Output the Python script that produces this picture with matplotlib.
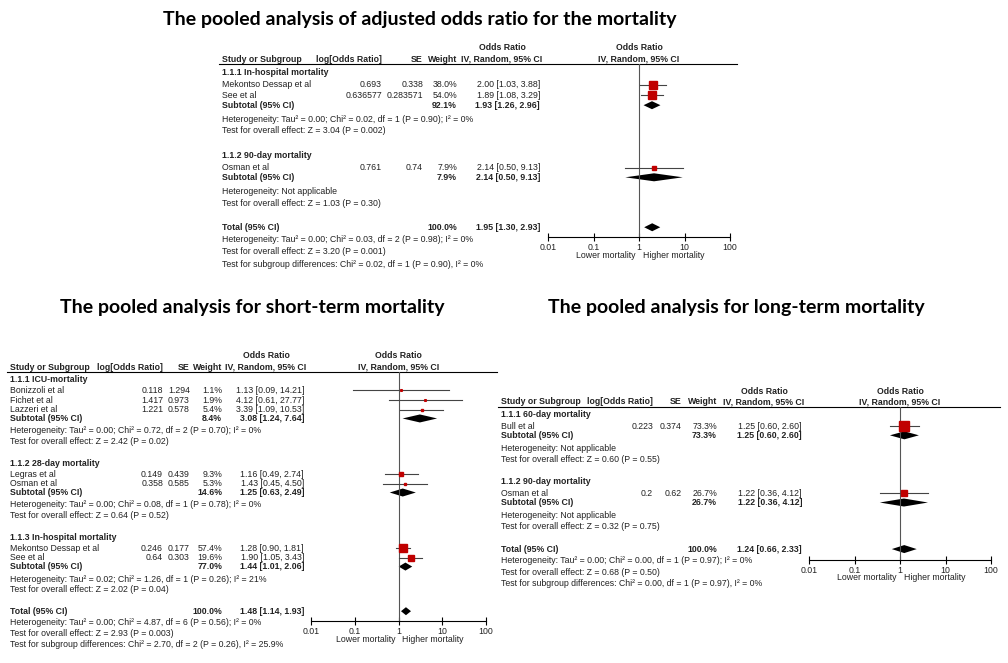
"""Three forest plots: adjusted, short-term and long-term mortality"""
import numpy as np
from matplotlib import pyplot as plt
from matplotlib.patches import Polygon

RED = '#c00000'
TXT = '#222222'

# ---- panel 1: adjusted odds ratio ----
p1_groups = ['1.1.1 In-hospital mortality', '1.1.2 90-day mortality']
p1_names = [['Mekontso Dessap et al', 'See et al'], ['Osman et al']]
p1_logor = [['0.693', '0.636577'], ['0.761']]
p1_se = [['0.338', '0.283571'], ['0.74']]
p1_w = [[38.0, 54.0], [7.9]]
p1_or = [[2.00, 1.89], [2.14]]
p1_lo = [[1.03, 1.08], [0.50]]
p1_hi = [[3.88, 3.29], [9.13]]
p1_sub_w = [92.1, 7.9]
p1_sub_or = [1.93, 2.14]
p1_sub_lo = [1.26, 0.50]
p1_sub_hi = [2.96, 9.13]
p1_het = ['Heterogeneity: Tau² = 0.00; Chi² = 0.02, df = 1 (P = 0.90); I² = 0%',
          'Heterogeneity: Not applicable']
p1_test = ['Test for overall effect: Z = 3.04 (P = 0.002)',
           'Test for overall effect: Z = 1.03 (P = 0.30)']
p1_total = [1.95, 1.30, 2.93]
p1_foot = ['Heterogeneity: Tau² = 0.00; Chi² = 0.03, df = 2 (P = 0.98); I² = 0%',
           'Test for overall effect: Z = 3.20 (P = 0.001)',
           'Test for subgroup differences: Chi² = 0.02, df = 1 (P = 0.90), I² = 0%']

# ---- panel 2: short-term mortality ----
p2_groups = ['1.1.1 ICU-mortality', '1.1.2 28-day mortality', '1.1.3 In-hospital mortality']
p2_names = [['Bonizzoli et al', 'Fichet et al', 'Lazzeri et al'],
            ['Legras et al', 'Osman et al'], ['Mekontso Dessap et al', 'See et al']]
p2_logor = [['0.118', '1.417', '1.221'], ['0.149', '0.358'], ['0.246', '0.64']]
p2_se = [['1.294', '0.973', '0.578'], ['0.439', '0.585'], ['0.177', '0.303']]
p2_w = [[1.1, 1.9, 5.4], [9.3, 5.3], [57.4, 19.6]]
p2_or = [[1.13, 4.12, 3.39], [1.16, 1.43], [1.28, 1.90]]
p2_lo = [[0.09, 0.61, 1.09], [0.49, 0.45], [0.90, 1.05]]
p2_hi = [[14.21, 27.77, 10.53], [2.74, 4.50], [1.81, 3.43]]
p2_sub_w = [8.4, 14.6, 77.0]
p2_sub_or = [3.08, 1.25, 1.44]
p2_sub_lo = [1.24, 0.63, 1.01]
p2_sub_hi = [7.64, 2.49, 2.06]
p2_het = ['Heterogeneity: Tau² = 0.00; Chi² = 0.72, df = 2 (P = 0.70); I² = 0%',
          'Heterogeneity: Tau² = 0.00; Chi² = 0.08, df = 1 (P = 0.78); I² = 0%',
          'Heterogeneity: Tau² = 0.02; Chi² = 1.26, df = 1 (P = 0.26); I² = 21%']
p2_test = ['Test for overall effect: Z = 2.42 (P = 0.02)',
           'Test for overall effect: Z = 0.64 (P = 0.52)',
           'Test for overall effect: Z = 2.02 (P = 0.04)']
p2_total = [1.48, 1.14, 1.93]
p2_foot = ['Heterogeneity: Tau² = 0.00; Chi² = 4.87, df = 6 (P = 0.56); I² = 0%',
           'Test for overall effect: Z = 2.93 (P = 0.003)',
           'Test for subgroup differences: Chi² = 2.70, df = 2 (P = 0.26), I² = 25.9%']

# ---- panel 3: long-term mortality ----
p3_groups = ['1.1.1 60-day mortality', '1.1.2 90-day mortality']
p3_names = [['Bull et al'], ['Osman et al']]
p3_logor = [['0.223'], ['0.2']]
p3_se = [['0.374'], ['0.62']]
p3_w = [[73.3], [26.7]]
p3_or = [[1.25], [1.22]]
p3_lo = [[0.60], [0.36]]
p3_hi = [[2.60], [4.12]]
p3_sub_w = [73.3, 26.7]
p3_sub_or = [1.25, 1.22]
p3_sub_lo = [0.60, 0.36]
p3_sub_hi = [2.60, 4.12]
p3_het = ['Heterogeneity: Not applicable', 'Heterogeneity: Not applicable']
p3_test = ['Test for overall effect: Z = 0.60 (P = 0.55)',
           'Test for overall effect: Z = 0.32 (P = 0.75)']
p3_total = [1.24, 0.66, 2.33]
p3_foot = ['Heterogeneity: Tau² = 0.00; Chi² = 0.00, df = 1 (P = 0.97); I² = 0%',
           'Test for overall effect: Z = 0.68 (P = 0.50)',
           'Test for subgroup differences: Chi² = 0.00, df = 1 (P = 0.97), I² = 0%']

ticks = [0.01, 0.1, 1, 10, 100]
tick_labels = ['0.01', '0.1', '1', '10', '100']

W, H = 1008, 663
plt.rcParams['font.family'] = ['Liberation Sans', 'DejaVu Sans']
fig = plt.figure(figsize=(W / 100, H / 100), dpi=100)
bg = fig.add_axes([0, 0, 1, 1])
bg.set_xlim(0, W)
bg.set_ylim(H, 0)
bg.axis('off')

FS = 6.3


def t(x, y, s, ha='left', bold=False, color=TXT):
    bg.text(x, y, s, ha=ha, va='center', fontsize=FS, color=color,
            fontweight='bold' if bold else 'normal')


def diamond(ax, y, m, lo, hi, h=4):
    ax.add_patch(Polygon([(lo, y), (m, y - h), (hi, y), (m, y + h)],
                         closed=True, color='black', lw=0))


def forest(d, groups, names, logor, se, w, orr, lo, hi, sw, sor, slo, shi,
           het, test, total, foot):
    x0, top, s = d['x0'], d['top'], d['s']
    cl, cs, cw, cc = d['cols']
    f0, f1, axy = d['f0'], d['f1'], d['axy']
    # header
    bg.plot([x0 - 3, d['xend']], [top, top], color='black', lw=0.8)
    t(x0, top - 5, 'Study or Subgroup', bold=True)
    t(cl, top - 5, 'log[Odds Ratio]', ha='right', bold=True)
    t(cs, top - 5, 'SE', ha='right', bold=True)
    t(cw, top - 5, 'Weight', ha='right', bold=True)
    cmid = cc - 38
    t(cmid, top - 16, 'Odds Ratio', ha='center', bold=True)
    t(cmid, top - 5, 'IV, Random, 95% CI', ha='center', bold=True)
    fmid = (f0 + f1) / 2
    t(fmid, top - 16, 'Odds Ratio', ha='center', bold=True)
    t(fmid, top - 5, 'IV, Random, 95% CI', ha='center', bold=True)

    fx = fig.add_axes([f0 / W, 1 - axy / H, (f1 - f0) / W, (axy - top) / H])
    fx.set_xscale('log')
    fx.set_xlim(0.01, 100)
    fx.set_ylim(axy, top)
    fx.patch.set_alpha(0)
    for sp in ['top', 'left', 'right']:
        fx.spines[sp].set_visible(False)
    fx.spines['bottom'].set_linewidth(0.8)
    fx.set_yticks([])
    fx.set_xticks(ticks)
    fx.set_xticklabels(tick_labels, fontsize=FS, color=TXT)
    fx.minorticks_off()
    fx.tick_params(axis='x', direction='inout', length=6, width=0.8, pad=1)
    fx.axvline(1, color='#555555', lw=0.8)
    bg.text(f0 + 0.48 * (f1 - f0), axy + 18, 'Lower mortality', ha='right',
            va='center', fontsize=FS, color=TXT)
    bg.text(f0 + 0.52 * (f1 - f0), axy + 18, 'Higher mortality', ha='left',
            va='center', fontsize=FS, color=TXT)

    y = top + 8 * s
    for g in range(len(groups)):
        t(x0, y, groups[g], bold=True)
        y += 12 * s
        for i in range(len(names[g])):
            if i:
                y += 10.5 * s
            t(x0, y, names[g][i])
            t(cl, y, logor[g][i], ha='right')
            t(cs, y, se[g][i], ha='right')
            t(cw, y, '%.1f%%' % w[g][i], ha='right')
            t(cc, y, '%.2f [%.2f, %.2f]' % (orr[g][i], lo[g][i], hi[g][i]), ha='right')
            fx.plot([lo[g][i], hi[g][i]], [y, y], color='#444444', lw=0.8)
            fx.plot(orr[g][i], y, 's', color=RED, mec=RED,
                    markersize=max(1.2, 7 * np.sqrt(w[g][i] / 73.3)))
        y += 9.5 * s
        t(x0, y, 'Subtotal (95% CI)', bold=True)
        t(cw, y, '%.1f%%' % sw[g], ha='right', bold=True)
        t(cc, y, '%.2f [%.2f, %.2f]' % (sor[g], slo[g], shi[g]), ha='right', bold=True)
        diamond(fx, y, sor[g], slo[g], shi[g])
        y += 13.5 * s
        t(x0, y, het[g])
        y += 11.5 * s
        t(x0, y, test[g])
        y += 23.5 * s
    t(x0, y, 'Total (95% CI)', bold=True)
    t(cw, y, '100.0%', ha='right', bold=True)
    t(cc, y, '%.2f [%.2f, %.2f]' % tuple(total), ha='right', bold=True)
    diamond(fx, y, *total)
    for line in foot:
        y += 12 * s
        t(x0, y, line)


forest(dict(x0=222, top=64, s=1.03, cols=(382, 423, 457, 540), f0=548, f1=730,
            axy=237, xend=737),
       p1_groups, p1_names, p1_logor, p1_se, p1_w, p1_or, p1_lo, p1_hi,
       p1_sub_w, p1_sub_or, p1_sub_lo, p1_sub_hi, p1_het, p1_test, p1_total, p1_foot)
forest(dict(x0=10, top=372, s=0.92, cols=(163, 190, 222, 304), f0=311, f1=486,
            axy=621, xend=497),
       p2_groups, p2_names, p2_logor, p2_se, p2_w, p2_or, p2_lo, p2_hi,
       p2_sub_w, p2_sub_or, p2_sub_lo, p2_sub_hi, p2_het, p2_test, p2_total, p2_foot)
forest(dict(x0=501, top=407, s=0.96, cols=(653, 682, 717, 802), f0=809, f1=991,
            axy=560, xend=1000),
       p3_groups, p3_names, p3_logor, p3_se, p3_w, p3_or, p3_lo, p3_hi,
       p3_sub_w, p3_sub_or, p3_sub_lo, p3_sub_hi, p3_het, p3_test, p3_total, p3_foot)

tkw = dict(ha='center', va='center', fontsize=14, fontweight='bold',
           family=['Lato', 'DejaVu Sans'], color='black')
bg.text(420, 20, 'The pooled analysis of adjusted odds ratio for the mortality', **tkw)
bg.text(252, 308, 'The pooled analysis for short-term mortality', **tkw)
bg.text(736, 308, 'The pooled analysis for long-term mortality', **tkw)

plt.savefig('out.png', dpi=100)
plt.close()
